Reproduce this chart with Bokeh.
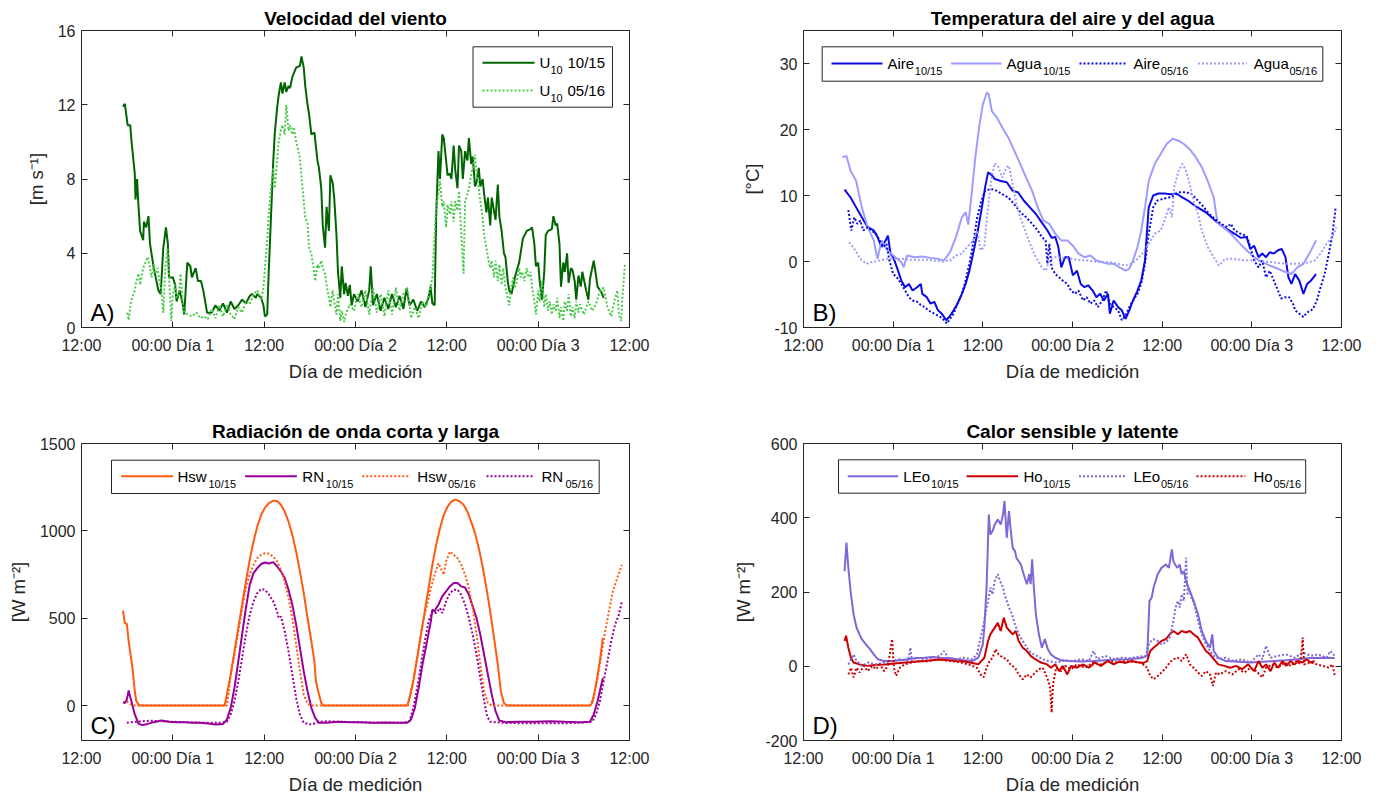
import numpy as np
from bokeh.plotting import figure
from bokeh.layouts import column, row
from bokeh.models import LinearAxis, FixedTicker, Label, BoxAnnotation, Arrow, Range1d
from bokeh.embed import file_html
from bokeh.resources import INLINE

FONT = "Liberation Sans"
AX = "#262626"

# ---------------- x axis (hours since 12:00 of day 0) ----------------
x_ticks = [0, 12, 24, 36, 48, 60, 72]
x_tick_labels = ["12:00", "00:00 Día 1", "12:00", "00:00 Día 2", "12:00", "00:00 Día 3", "12:00"]

# ---------------- A) wind speed [m/s] ----------------
u10_1015 = [(5.45, 11.9), (5.7, 12.05), (6.06, 10.9), (6.4, 10.9), (6.6, 9.9), (7.0, 8.3), (7.1, 6.9), (7.3, 8.0),
            (7.45, 6.8), (7.7, 5.2), (8.1, 4.7), (8.2, 5.7), (8.5, 5.4), (8.8, 6.0), (9.0, 4.5), (9.5, 3.2),
            (10.1, 2.0), (10.4, 1.8), (10.75, 4.3), (11.1, 5.4), (11.35, 4.5), (11.5, 2.7), (12.0, 2.7), (12.3, 2.3),
            (12.5, 1.4), (12.9, 2.0), (13.3, 1.25), (13.5, 0.7), (13.9, 3.5), (14.3, 3.3), (14.5, 2.7), (15.0, 3.2),
            (15.3, 2.5), (15.7, 2.5), (16.0, 2.0), (16.5, 0.8), (17.1, 0.8), (17.6, 1.2), (18.1, 0.9), (18.6, 1.3),
            (19.1, 0.8), (19.6, 1.4), (20.1, 1.0), (20.6, 1.2), (21.1, 1.5), (21.6, 1.3), (22.1, 1.7), (22.4, 1.8),
            (22.9, 1.6), (23.1, 1.8), (23.6, 1.6), (23.9, 1.2), (24.1, 0.6), (24.4, 0.7), (24.6, 3.0), (24.9, 6.0),
            (25.2, 9.0), (25.4, 10.5), (25.7, 11.8), (25.9, 12.5), (26.2, 13.2), (26.4, 12.6), (26.7, 13.2),
            (26.9, 12.7), (27.2, 13.0), (27.4, 12.9), (27.7, 13.5), (28.2, 14.0), (28.7, 14.1), (28.9, 14.6),
            (29.2, 14.0), (29.4, 13.0), (29.7, 12.0), (29.9, 11.5), (30.2, 10.4), (30.6, 10.5), (31.0, 9.0),
            (31.2, 8.6), (31.5, 7.5), (31.7, 5.5), (32.0, 4.3), (32.2, 6.5), (32.5, 5.2), (32.7, 8.2), (33.0, 7.8),
            (33.2, 7.0), (33.5, 5.0), (33.7, 3.0), (34.0, 1.6), (34.2, 3.3), (34.5, 1.8), (34.7, 2.4), (35.0, 1.7),
            (35.25, 2.3), (35.5, 1.2), (35.8, 1.8), (36.3, 1.4), (36.8, 2.0), (37.3, 1.1), (37.8, 2.0), (38.0, 3.3),
            (38.3, 1.2), (38.8, 1.8), (39.3, 0.9), (39.8, 1.6), (40.3, 1.0), (40.8, 1.8), (41.3, 1.1), (41.8, 1.7),
            (42.3, 1.0), (42.7, 2.1), (43.1, 1.2), (43.6, 1.5), (44.1, 0.9), (44.6, 1.4), (45.1, 1.1), (45.6, 1.6),
            (45.85, 2.2), (46.1, 1.3), (46.4, 1.2), (46.6, 6.0), (46.9, 9.5), (47.1, 8.0), (47.4, 10.4),
            (47.6, 10.2), (47.9, 9.0), (48.1, 8.2), (48.4, 8.3), (48.6, 8.0), (48.9, 9.8), (49.1, 8.5), (49.4, 7.5),
            (49.6, 9.8), (49.9, 9.5), (50.1, 8.0), (50.4, 9.5), (50.7, 9.0), (50.9, 10.2), (51.2, 8.8), (51.4, 9.2),
            (51.7, 7.6), (51.9, 7.8), (52.2, 8.6), (52.4, 7.6), (52.7, 8.0), (52.9, 7.2), (53.2, 6.2), (53.4, 7.0),
            (53.7, 5.5), (53.9, 7.0), (54.4, 5.8), (54.7, 7.7), (54.9, 6.0), (55.2, 5.2), (55.5, 4.0), (55.7, 3.8),
            (56.0, 2.5), (56.2, 2.0), (56.5, 1.8), (56.7, 2.2), (57.0, 2.8), (57.5, 3.5), (58.0, 4.8), (58.5, 5.2),
            (59.0, 5.3), (59.2, 5.4), (59.5, 4.5), (59.7, 3.3), (60.0, 3.5), (60.2, 2.5), (60.5, 1.5), (60.8, 3.0),
            (61.0, 5.0), (61.3, 5.2), (61.8, 5.3), (62.0, 6.0), (62.3, 5.5), (62.5, 5.6), (62.8, 4.5), (63.0, 2.2),
            (63.3, 3.5), (63.5, 3.0), (63.8, 4.0), (64.0, 2.4), (64.3, 3.2), (64.5, 3.1), (64.8, 2.5), (65.0, 1.5),
            (65.3, 2.8), (65.6, 2.2), (65.8, 3.0), (66.3, 2.0), (66.6, 1.5), (66.8, 2.6), (67.3, 3.6), (67.6, 2.8),
            (67.8, 2.2), (68.3, 1.9), (68.6, 1.6)]
u10_0516 = [(6.0, 0.8), (6.2, 0.4), (6.5, 1.4), (7.0, 2.0), (7.2, 2.5), (7.5, 2.9), (7.7, 2.3), (8.1, 3.2),
            (8.5, 3.6), (8.7, 3.8), (9.0, 3.2), (9.2, 2.7), (9.5, 3.4), (9.7, 2.9), (10.0, 3.2), (10.25, 2.5),
            (10.5, 2.0), (10.75, 0.8), (11.0, 3.2), (11.3, 4.3), (11.5, 2.7), (11.8, 0.35), (12.0, 1.8), (12.3, 2.3),
            (12.5, 1.6), (12.8, 1.8), (13.0, 2.9), (13.3, 1.4), (13.5, 0.8), (14.0, 0.7), (14.5, 0.6), (15.1, 0.8),
            (15.6, 0.5), (16.1, 0.6), (16.6, 0.45), (17.1, 1.0), (17.6, 0.5), (18.1, 1.2), (18.6, 0.6), (19.1, 1.25),
            (19.6, 0.7), (20.1, 0.45), (20.6, 1.1), (21.1, 0.8), (21.6, 1.4), (22.1, 1.25), (22.6, 1.8), (23.1, 2.0),
            (23.6, 1.5), (23.9, 2.15), (24.1, 3.2), (24.4, 4.7), (24.6, 6.1), (24.9, 7.5), (25.2, 8.6), (25.4, 7.5),
            (25.7, 9.0), (25.9, 10.0), (26.2, 10.6), (26.4, 10.9), (26.7, 10.4), (26.9, 12.0), (27.2, 10.6),
            (27.4, 10.9), (27.7, 10.4), (27.9, 10.8), (28.2, 10.0), (28.4, 9.7), (28.7, 9.1), (28.9, 8.1),
            (29.2, 6.8), (29.4, 5.9), (29.7, 5.6), (29.9, 4.3), (30.2, 3.95), (30.5, 3.2), (30.7, 2.5), (31.0, 3.4),
            (31.2, 3.2), (31.5, 3.6), (31.7, 3.2), (32.0, 2.9), (32.2, 2.3), (32.5, 1.6), (32.7, 1.1), (33.0, 2.0),
            (33.2, 1.4), (33.5, 0.7), (33.7, 1.8), (34.0, 0.35), (34.2, 0.9), (34.5, 0.3), (34.7, 0.7),
            (35.25, 1.25), (35.8, 0.9), (36.3, 1.8), (36.8, 1.1), (37.3, 2.0), (37.8, 0.7), (38.3, 2.15), (38.8, 0.8),
            (39.3, 1.8), (39.8, 0.6), (40.3, 2.0), (40.8, 0.7), (41.3, 2.15), (41.8, 0.9), (42.3, 1.8), (42.8, 2.15),
            (43.3, 0.5), (43.8, 1.1), (44.3, 0.5), (44.8, 1.4), (45.3, 1.1), (45.6, 1.8), (45.85, 2.15), (46.1, 2.7),
            (46.4, 5.0), (46.6, 6.6), (46.9, 7.2), (47.1, 7.9), (47.4, 6.5), (47.6, 6.8), (47.9, 5.4), (48.1, 6.6),
            (48.4, 6.1), (48.6, 6.8), (48.9, 5.7), (49.1, 6.8), (49.4, 6.3), (49.6, 7.35), (49.9, 5.0), (50.2, 2.9),
            (50.4, 6.8), (50.7, 7.2), (50.9, 7.5), (51.2, 8.25), (51.4, 8.6), (51.7, 9.3), (51.9, 8.25), (52.2, 7.5),
            (52.4, 6.8), (52.7, 5.9), (52.9, 5.0), (53.2, 4.3), (53.4, 3.8), (53.7, 3.2), (53.9, 3.6), (54.2, 2.7),
            (54.4, 3.6), (54.7, 2.5), (54.9, 3.4), (55.2, 2.3), (55.4, 3.2), (55.7, 2.15), (55.9, 1.8), (56.2, 1.2),
            (56.4, 2.0), (56.7, 2.7), (56.9, 2.15), (57.2, 2.5), (57.5, 3.2), (57.7, 2.7), (57.9, 3.0), (58.2, 2.5),
            (58.5, 3.2), (58.7, 2.7), (59.0, 3.0), (59.2, 2.15), (59.5, 1.4), (59.7, 0.7), (60.0, 2.0), (60.2, 1.4),
            (60.5, 2.5), (60.8, 1.1), (61.0, 1.8), (61.3, 0.9), (61.5, 1.4), (61.8, 0.7), (62.0, 1.25), (62.3, 0.9),
            (62.5, 1.6), (62.8, 0.5), (63.0, 1.1), (63.3, 0.35), (63.5, 1.4), (63.8, 0.9), (64.0, 1.8), (64.3, 0.6),
            (64.5, 1.1), (64.8, 0.5), (65.0, 1.4), (65.3, 0.8), (65.5, 1.25), (66.0, 0.7), (66.6, 1.4), (67.1, 0.9),
            (67.6, 1.25), (68.1, 1.97), (68.6, 2.15), (69.1, 1.1), (69.6, 0.6), (70.1, 1.6), (70.4, 2.0), (70.6, 0.7),
            (70.9, 0.35), (71.1, 1.8), (71.4, 3.4)]

# ---------------- B) air and water temperature [°C] ----------------
aire_1015 = [(5.5, 10.9), (6.3, 9.7), (7.05, 8.2), (7.8, 6.7), (8.6, 5.2), (9.4, 4.7), (9.9, 3.7), (10.45, 2.2),
             (11.0, 3.2), (11.3, 3.9), (11.65, 1.2), (12.0, 0.65), (12.5, -0.9), (13.1, -2.9), (13.6, -3.9),
             (14.1, -3.4), (14.6, -4.4), (15.2, -3.9), (15.7, -3.4), (15.9, -4.9), (16.5, -5.4), (17.0, -6.4),
             (17.5, -6.1), (18.0, -7.4), (18.5, -7.9), (19.1, -8.9), (19.5, -8.4), (20.1, -7.4), (20.6, -6.4),
             (21.2, -4.9), (21.7, -3.4), (22.2, -1.4), (22.7, 1.2), (23.25, 4.2), (23.8, 7.7), (24.3, 11.2),
             (24.7, 13.5), (25.1, 13.2), (25.6, 12.5), (26.4, 12.2), (27.2, 12.0), (28.0, 10.7), (28.7, 10.5),
             (29.5, 9.2), (30.3, 8.2), (31.1, 7.2), (31.9, 5.9), (32.65, 4.7), (33.2, 3.6), (33.7, 3.7), (34.1, 2.2),
             (34.5, -0.9), (35.0, 0.65), (35.5, 0.65), (36.05, -2.1), (36.6, -1.4), (37.1, -3.4), (37.6, -3.9),
             (38.1, -3.6), (38.7, -4.4), (39.2, -5.4), (39.7, -4.9), (40.2, -5.9), (40.75, -4.9), (41.0, -7.9),
             (41.5, -5.9), (42.1, -6.9), (42.6, -7.4), (43.1, -8.7), (43.6, -7.4), (44.1, -5.9), (44.7, -4.4),
             (45.2, -2.9), (45.7, 0.15), (46.2, 8.2), (46.8, 10.0), (47.5, 10.3), (48.3, 10.3), (49.1, 10.2),
             (49.9, 10.3), (50.7, 9.7), (51.5, 9.2), (52.2, 8.6), (53.0, 8.0), (53.8, 7.5), (54.6, 6.7), (55.4, 5.9),
             (56.2, 5.2), (56.95, 4.7), (57.7, 4.2), (58.5, 3.6), (59.3, 3.7), (59.8, 1.9), (60.3, 2.4), (60.9, 0.65),
             (61.4, 1.2), (61.9, 0.65), (62.4, 1.4), (62.95, 1.2), (63.5, 1.7), (64.0, 1.9), (64.5, 0.65),
             (64.9, -2.4), (65.3, -3.4), (65.8, -1.9), (66.35, -2.9), (66.9, -4.9), (67.4, -3.4), (67.9, -2.9),
             (68.6, -1.9)]
agua_1015 = [(5.2, 15.8), (5.75, 16.0), (6.3, 13.75), (7.05, 12.2), (7.8, 8.2), (8.6, 5.2), (9.4, 3.2), (9.9, 0.4),
             (10.45, 3.2), (11.2, 1.7), (12.3, 0.65), (13.1, -0.1), (13.4, -0.9), (13.85, 0.9), (14.9, 0.65),
             (15.9, 0.75), (17.0, 0.55), (18.0, 0.4), (18.8, 0.15), (19.6, 1.4), (20.4, 3.7), (21.2, 6.7),
             (21.7, 7.45), (22.05, 5.6), (22.5, 10.2), (23.0, 15.8), (23.5, 20.3), (24.0, 23.8), (24.55, 25.6),
             (24.8, 25.3), (25.2, 22.8), (25.9, 21.8), (26.6, 20.3), (27.4, 18.8), (28.2, 16.8), (29.0, 14.8),
             (29.8, 12.7), (30.6, 10.7), (31.35, 8.2), (32.1, 6.2), (32.9, 5.7), (33.7, 4.2), (34.5, 3.2), (35.3, 3.2),
             (36.05, 2.4), (36.8, 1.2), (37.6, 0.65), (38.4, 0.9), (39.2, 0.15), (40.0, -0.1), (40.75, -0.35),
             (41.5, -0.35), (42.3, -0.9), (43.1, -1.4), (43.6, -1.1), (44.1, 0.15), (44.7, 2.2), (45.2, 4.7),
             (45.7, 8.2), (46.2, 12.2), (47.0, 14.8), (47.8, 16.3), (48.6, 17.8), (49.4, 18.6), (50.2, 18.3),
             (50.9, 17.8), (51.7, 17.0), (52.5, 15.8), (53.3, 14.3), (54.1, 12.2), (54.9, 9.7), (55.4, 5.9),
             (56.2, 5.2), (57.2, 4.2), (58.25, 2.9), (59.3, 1.7), (60.3, 0.65), (61.4, -0.1), (62.4, -0.6),
             (63.5, -1.1), (64.5, -1.6), (65.3, -1.9), (66.1, -0.9), (66.9, -0.35), (67.7, 1.2), (68.6, 3.2)]
aire_0516 = [(6.0, 7.8), (6.4, 4.7), (6.8, 6.7), (7.2, 5.7), (7.6, 6.2), (8.0, 4.7), (8.6, 5.2), (9.1, 4.7),
             (9.7, 4.2), (10.2, 3.2), (10.7, 2.2), (11.1, 2.7), (11.5, 0.15), (12.0, -1.9), (12.5, -2.4),
             (13.1, -3.4), (13.6, -4.4), (14.1, -5.4), (14.6, -5.9), (15.2, -6.1), (15.7, -6.6), (16.2, -6.9),
             (16.7, -7.4), (17.5, -7.9), (18.3, -8.4), (18.8, -8.9), (19.2, -9.4), (19.6, -8.7), (20.1, -7.9),
             (20.6, -6.4), (21.2, -4.9), (21.7, -2.9), (22.2, -0.35), (22.7, 2.7), (23.25, 6.7), (23.8, 9.2),
             (24.3, 10.7), (25.1, 11.0), (25.9, 10.7), (26.6, 10.2), (27.4, 9.7), (28.2, 8.7), (29.0, 7.5),
             (29.8, 6.7), (30.6, 5.7), (31.35, 4.7), (31.9, 3.7), (32.4, 3.2), (32.65, -0.35), (32.9, 2.7),
             (33.2, -0.9), (33.7, -1.9), (34.2, -2.4), (34.7, -2.9), (35.3, -3.4), (35.8, -4.4), (36.3, -4.9),
             (36.8, -4.4), (37.4, -5.9), (37.9, -5.4), (38.4, -6.4), (38.9, -5.9), (39.4, -6.9), (40.0, -5.9),
             (40.5, -4.4), (41.0, -6.4), (41.5, -6.9), (42.1, -7.4), (42.6, -8.9), (43.1, -8.2), (43.6, -6.9),
             (44.1, -5.9), (44.7, -4.9), (45.2, -3.4), (45.7, -0.35), (46.2, 4.2), (46.8, 8.2), (47.3, 9.2),
             (48.1, 9.5), (48.9, 9.7), (49.6, 10.0), (50.4, 10.5), (51.2, 10.5), (52.0, 10.2), (52.8, 9.2),
             (53.6, 8.2), (54.3, 7.2), (55.1, 6.4), (55.9, 5.7), (56.7, 5.2), (57.2, 5.7), (57.7, 4.7), (58.5, 4.2),
             (59.3, 3.9), (59.8, 2.2), (60.3, 0.15), (60.9, -0.9), (61.4, 0.15), (61.9, -2.4), (62.4, -1.4),
             (62.95, -2.9), (63.5, -4.4), (63.9, -5.6), (64.5, -5.4), (65.0, -5.4), (65.5, -6.4), (65.8, -7.4),
             (66.35, -7.9), (66.9, -8.4), (67.4, -7.7), (68.2, -7.2), (68.7, -5.9), (69.2, -3.9), (69.75, -1.9),
             (70.3, 1.2), (70.8, 4.2), (71.2, 8.0)]
agua_0516 = [(6.1, 2.9), (6.8, 1.9), (7.6, 0.4), (8.4, -0.35), (9.1, -0.1), (10.2, 0.15), (11.2, 0.4), (12.3, 0.4),
             (13.3, 0.4), (14.4, 0.25), (15.4, 0.25), (16.5, 0.25), (17.5, 0.15), (18.5, 0.0), (19.6, 0.15),
             (20.4, 0.9), (21.2, 1.2), (21.9, 2.2), (22.7, 3.2), (23.25, 4.7), (23.7, 1.7), (24.2, 2.2), (24.55, 6.7),
             (25.1, 12.2), (25.6, 14.9), (26.1, 14.3), (26.6, 12.7), (27.2, 14.3), (27.5, 14.5), (28.0, 11.7),
             (28.5, 8.7), (29.0, 6.7), (29.5, 5.2), (30.3, 2.7), (31.1, 0.65), (31.9, -0.9), (32.4, -1.4),
             (32.9, 0.15), (33.7, 0.65), (34.7, 0.55), (35.8, 0.4), (36.8, 0.25), (37.9, 0.15), (38.9, 0.0),
             (40.0, -0.1), (41.0, -0.1), (42.1, -0.35), (43.1, -0.6), (43.9, -0.35), (44.7, 0.4), (45.45, 1.4),
             (46.2, 2.7), (47.0, 4.2), (47.8, 4.7), (48.3, 6.2), (48.9, 8.2), (49.3, 6.7), (49.6, 11.2), (50.2, 13.75),
             (50.7, 14.8), (51.2, 13.75), (51.7, 11.7), (52.2, 9.2), (52.8, 7.2), (53.3, 4.7), (54.1, 2.2),
             (54.9, 0.65), (55.6, -0.6), (56.4, 0.4), (57.5, 0.4), (58.5, 0.25), (59.6, 0.15), (60.6, 0.15),
             (61.7, 0.0), (62.7, -0.1), (63.7, -0.25), (64.8, -0.35), (65.8, -0.35), (66.9, -0.25), (67.7, -0.1),
             (68.4, 0.15), (69.2, 1.2), (70.0, 2.7), (70.8, 3.7), (71.3, 5.2)]

# ---------------- C) short-wave and net radiation [W/m2] ----------------
hsw_1015 = [(5.45, 543), (5.7, 472), (5.96, 467), (6.2, 368), (6.7, 215), (7.0, 82), (7.2, 25), (7.6, 0), (18.8, 0),
            (19.1, 63), (19.6, 177), (20.1, 310), (20.6, 444), (21.1, 577), (21.6, 710), (22.1, 834), (22.6, 939),
            (23.1, 1025), (23.6, 1091), (24.1, 1133), (24.6, 1158), (25.2, 1173), (25.7, 1171), (26.2, 1149),
            (26.7, 1110), (27.2, 1053), (27.7, 977), (28.2, 882), (28.7, 768), (29.2, 644), (29.7, 501), (30.2, 368),
            (30.6, 253), (30.8, 139), (31.1, 82), (31.5, 15), (31.8, 0), (42.8, 0), (43.1, 44), (43.6, 139),
            (44.1, 272), (44.6, 406), (45.1, 539), (45.6, 672), (46.1, 806), (46.6, 920), (47.1, 1015), (47.6, 1091),
            (48.1, 1139), (48.6, 1168), (49.1, 1179), (49.6, 1171), (50.2, 1149), (50.7, 1110), (51.2, 1053),
            (51.7, 987), (52.2, 901), (52.7, 796), (53.2, 672), (53.7, 539), (54.2, 387), (54.7, 234), (55.1, 82),
            (55.5, 15), (55.9, 0), (66.8, 0), (67.1, 15), (67.6, 120), (68.1, 253), (68.5, 387)]
rn_1015 = [(5.45, 19), (5.7, 15), (5.96, 34), (6.2, 86), (6.5, 34), (7.0, -51), (7.5, -105), (8.0, -112), (8.7, -105),
           (9.5, -95), (10.5, -86), (11.5, -93), (12.5, -95), (13.5, -95), (14.5, -99), (15.6, -99), (16.6, -103),
           (17.6, -109), (18.6, -105), (19.1, -80), (19.6, -13), (20.1, 101), (20.6, 253), (21.1, 406), (21.6, 558),
           (22.1, 691), (22.6, 758), (23.1, 787), (23.6, 810), (24.1, 819), (24.6, 813), (25.2, 821), (25.7, 796),
           (26.2, 768), (26.7, 730), (27.2, 663), (27.7, 577), (28.2, 463), (28.7, 330), (29.2, 196), (29.7, 82),
           (30.2, -13), (30.7, -70), (31.2, -99), (32.2, -99), (33.7, -93), (35.3, -95), (36.8, -95), (38.3, -99),
           (39.8, -97), (41.3, -99), (42.8, -99), (43.3, -80), (43.8, -13), (44.3, 101), (44.8, 234), (45.4, 368),
           (45.9, 482), (46.1, 549), (46.4, 539), (46.6, 558), (46.9, 577), (47.4, 625), (47.9, 653), (48.4, 682),
           (48.9, 701), (49.4, 701), (49.9, 682), (50.4, 676), (50.9, 634), (51.4, 568), (51.9, 501), (52.4, 406),
           (52.9, 291), (53.4, 177), (53.9, 63), (54.4, -32), (54.9, -86), (55.7, -95), (57.5, -93), (59.5, -93),
           (61.5, -90), (63.5, -93), (65.5, -95), (66.8, -93), (67.3, -51), (67.8, 25), (68.5, 158)]
hsw_0516 = [(5.96, 25), (6.5, 6), (7.0, 0), (19.1, 0), (19.3, 63), (19.6, 177), (20.1, 291), (20.6, 425), (21.1, 558),
            (21.6, 672), (22.1, 749), (22.6, 806), (23.1, 844), (23.6, 863), (24.1, 872), (24.6, 870), (25.2, 853),
            (25.7, 825), (26.2, 777), (26.7, 710), (27.2, 615), (27.7, 501), (28.2, 349), (28.7, 196), (29.2, 63),
            (29.7, 10), (30.2, 0), (42.9, 0), (43.3, 82), (43.8, 196), (44.3, 330), (44.8, 463), (45.4, 577),
            (45.9, 672), (46.4, 749), (46.9, 815), (47.4, 768), (47.6, 749), (47.9, 825), (48.4, 882), (48.9, 863),
            (49.4, 844), (49.9, 806), (50.4, 749), (50.9, 672), (51.4, 558), (51.9, 406), (52.4, 234), (52.9, 82),
            (53.4, 15), (53.9, 0), (66.8, 0), (67.3, 44), (67.8, 158), (68.3, 291), (68.8, 425), (69.3, 539),
            (69.8, 653), (70.4, 730), (71.0, 806)]
rn_0516 = [(5.96, -99), (7.0, -93), (8.0, -90), (9.0, -86), (10.5, -90), (12.0, -93), (14.0, -95), (16.1, -99),
           (18.1, -99), (19.1, -93), (19.6, -51), (20.1, 25), (20.6, 139), (21.1, 272), (21.6, 406), (22.1, 520),
           (22.6, 596), (23.1, 644), (23.6, 667), (24.1, 663), (24.6, 638), (25.2, 596), (25.7, 539), (25.9, 501),
           (26.2, 510), (26.7, 425), (27.2, 310), (27.7, 177), (28.2, 44), (28.7, -51), (29.2, -99), (30.2, -109),
           (31.2, -93), (32.2, -90), (34.2, -93), (36.3, -95), (38.3, -99), (40.3, -99), (42.3, -99), (43.1, -90),
           (43.6, -13), (44.1, 101), (44.6, 234), (45.1, 368), (45.6, 482), (46.1, 539), (46.6, 530), (47.1, 558),
           (47.4, 530), (47.9, 596), (48.4, 644), (48.9, 663), (49.4, 663), (49.9, 634), (50.4, 577), (50.9, 501),
           (51.4, 406), (51.9, 291), (52.4, 158), (52.9, 25), (53.3, -61), (53.7, -93), (55.5, -99), (57.5, -101),
           (59.5, -101), (61.5, -101), (63.5, -101), (65.5, -99), (67.1, -93), (67.6, -51), (68.1, 25), (68.6, 139),
           (69.1, 253), (69.6, 368), (70.1, 463), (70.6, 520), (71.0, 596)]

# ---------------- D) sensible and latent heat [W/m2] ----------------
leo_1015 = [(5.5, 256), (5.75, 333), (6.0, 265), (6.35, 194), (6.7, 140), (7.1, 104), (7.5, 86), (7.8, 73), (8.35, 59),
            (8.9, 46), (9.4, 32), (9.95, 19), (10.8, 14), (11.85, 14), (12.9, 16), (14.0, 19), (15.1, 22), (16.2, 23),
            (17.2, 25), (18.3, 23), (19.4, 22), (20.5, 19), (21.5, 16), (22.6, 14), (23.4, 23), (24.0, 59),
            (24.2, 104), (24.5, 212), (24.8, 409), (25.0, 355), (25.3, 364), (25.6, 382), (26.0, 395), (26.4, 382),
            (26.7, 409), (26.9, 445), (27.2, 346), (27.5, 418), (27.7, 373), (28.0, 319), (28.3, 310), (28.5, 292),
            (28.8, 283), (29.1, 274), (29.35, 256), (29.6, 239), (29.9, 221), (30.2, 248), (30.4, 221), (30.6, 288),
            (30.8, 221), (31.1, 140), (31.5, 86), (31.9, 50), (32.3, 73), (32.7, 46), (33.1, 32), (33.7, 23),
            (34.5, 16), (35.5, 14), (37.2, 13), (38.8, 14), (40.4, 16), (42.0, 18), (43.6, 19), (45.2, 22), (46.0, 28),
            (46.3, 176), (46.6, 185), (46.85, 212), (47.4, 248), (47.9, 265), (48.5, 274), (48.9, 265), (49.3, 315),
            (49.5, 283), (50.0, 265), (50.35, 274), (50.6, 248), (50.9, 256), (51.2, 230), (51.7, 203), (52.2, 176),
            (52.8, 140), (53.3, 95), (53.85, 68), (54.4, 50), (54.7, 86), (54.9, 41), (55.5, 23), (56.5, 14),
            (58.2, 12), (59.8, 10), (61.4, 12), (63.0, 14), (64.6, 16), (66.2, 19), (67.9, 22), (69.5, 23), (71.1, 22)]
ho_1015 = [(5.5, 68), (5.7, 82), (6.0, 50), (6.35, 23), (6.7, 10), (7.5, 5), (8.6, 1), (9.7, 4), (10.8, 5), (11.85, 7),
           (12.9, 9), (14.0, 11), (15.1, 13), (16.2, 14), (17.2, 16), (18.3, 18), (19.4, 16), (20.5, 14), (21.5, 13),
           (22.6, 9), (23.4, 5), (24.2, 23), (24.7, 68), (25.0, 86), (25.6, 104), (26.0, 117), (26.4, 95), (26.8, 131),
           (27.2, 104), (27.6, 95), (28.0, 86), (28.4, 95), (28.8, 68), (29.35, 50), (29.9, 41), (30.4, 28), (31.0, 19),
           (31.8, 10), (32.6, 5), (33.1, -4), (33.7, 5), (34.2, -13), (34.7, 1), (35.3, -22), (35.8, 1), (36.6, -4),
           (37.4, 5), (38.2, -4), (39.0, 10), (39.8, 1), (40.7, 14), (41.5, 5), (42.3, 13), (43.1, 9), (43.9, 14),
           (44.7, 11), (45.5, 9), (46.0, 14), (46.4, 41), (46.85, 50), (47.4, 59), (47.9, 68), (48.5, 73), (49.0, 86),
           (49.5, 95), (50.1, 86), (50.6, 95), (51.2, 91), (51.7, 95), (52.2, 86), (52.8, 77), (53.3, 59), (53.85, 41),
           (54.4, 32), (54.9, 19), (55.5, 5), (56.3, 1), (57.1, -4), (57.9, 1), (58.7, -8), (59.5, 5), (60.3, -13),
           (60.9, 14), (61.4, -4), (61.9, 5), (62.5, -13), (63.0, 10), (63.5, -4), (64.1, 14), (64.6, 1), (65.2, 14),
           (65.7, 5), (66.2, 14), (66.8, 10), (67.3, 19), (67.9, 10), (68.4, 14)]
leo_0516 = [(6.0, 5), (6.5, 23), (6.7, 32), (7.1, 14), (7.8, 1), (8.6, 10), (9.7, 5), (10.8, 10), (11.85, 14),
            (12.9, 19), (14.0, 14), (14.3, 50), (14.5, 14), (15.1, 23), (16.2, 19), (17.2, 23), (18.3, 28), (18.8, 41),
            (19.4, 22), (20.5, 19), (21.5, 23), (22.6, 19), (23.2, 32), (23.7, 77), (24.2, 122), (24.5, 158),
            (24.8, 185), (25.0, 212), (25.3, 194), (25.6, 230), (26.0, 248), (26.3, 230), (26.7, 212), (26.9, 194),
            (27.2, 176), (27.5, 158), (27.9, 140), (28.3, 113), (28.8, 86), (29.35, 68), (29.9, 50), (30.4, 37),
            (31.2, 28), (32.0, 19), (32.8, 14), (33.9, 10), (35.0, 16), (36.1, 14), (37.2, 19), (38.2, 14), (38.8, 41),
            (39.3, 19), (40.4, 28), (41.5, 19), (42.5, 23), (43.6, 22), (44.7, 25), (45.8, 28), (46.3, 64),
            (46.85, 73), (47.4, 68), (47.9, 59), (48.5, 64), (49.0, 77), (49.3, 104), (49.5, 122), (49.8, 158),
            (50.1, 176), (50.35, 158), (50.6, 194), (50.9, 176), (51.2, 292), (51.4, 194), (51.7, 203), (52.0, 176),
            (52.2, 176), (52.5, 149), (52.8, 122), (53.3, 86), (53.85, 59), (54.4, 41), (54.9, 28), (55.7, 19),
            (56.5, 23), (57.6, 14), (58.7, 19), (59.8, 10), (60.9, 32), (61.4, 19), (61.9, 55), (62.5, 23), (63.5, 28),
            (64.6, 32), (65.7, 23), (66.8, 37), (67.9, 28), (68.9, 32), (70.0, 23), (70.5, 41), (71.1, 28)]
ho_0516 = [(6.0, -22), (6.35, -4), (6.7, -30), (7.1, -4), (7.5, -17), (8.1, 1), (8.6, -13), (9.2, 1), (9.7, -8),
           (10.2, 5), (10.8, -13), (11.3, 1), (11.85, 73), (12.1, -4), (12.4, -26), (12.9, -4), (13.5, 5), (14.5, 10),
           (15.6, 14), (16.7, 13), (17.8, 19), (18.8, 16), (19.9, 14), (21.0, 10), (22.1, 5), (23.2, -4), (23.7, -22),
           (24.1, -30), (24.5, -4), (24.9, 14), (25.3, 23), (25.7, 46), (26.1, 32), (26.7, 23), (27.2, 19), (27.7, 5),
           (28.3, -4), (28.8, -22), (29.35, -35), (29.9, -22), (30.4, -30), (31.0, -17), (31.5, -8), (32.0, -4),
           (32.6, -30), (33.0, -57), (33.2, -125), (33.4, -48), (33.8, -4), (34.5, -13), (35.0, 1), (35.8, -8),
           (36.6, 5), (37.7, -4), (38.8, 10), (39.8, 5), (40.9, 14), (42.0, 10), (43.1, 14), (44.2, 12), (45.2, 9),
           (46.0, -4), (46.4, -26), (46.85, -35), (47.4, -26), (47.9, -17), (48.5, -4), (49.0, 10), (49.5, 19),
           (50.1, 23), (50.6, 14), (51.2, 32), (51.7, 5), (52.2, -4), (52.8, -17), (53.3, -26), (53.85, -13),
           (54.4, -22), (54.8, -53), (55.2, -17), (55.7, -22), (56.5, -13), (57.4, -22), (58.2, -8), (59.0, -17),
           (59.8, -4), (60.6, -13), (61.4, -30), (61.9, -4), (62.7, 5), (63.5, -4), (64.4, 10), (65.2, 1), (66.0, 14),
           (66.5, 5), (66.8, 77), (67.0, 5), (67.9, 10), (68.7, 5), (69.5, 1), (70.3, -4), (70.8, 5), (71.1, -26)]

# ---------------- colours ----------------
C_U1, C_U2 = "#006400", "#4cc94c"
C_AIRE, C_AGUA = "#0a0ae6", "#9d9dff"
C_HSW, C_RN = "#ff5a0f", "#990099"
C_LEO, C_HO = "#8066d6", "#cd0000"

DOT = "2 2"


def make_fig(title, ylabel, yrange, yticks, border, fw, fh):
    left, right, top, bottom = border
    p = figure(width=left + fw + right, height=top + fh + bottom,
               x_range=Range1d(0, 72), y_range=Range1d(*yrange),
               output_backend="svg", toolbar_location=None, title=title,
               min_border_left=left, min_border_right=right, min_border_top=top, min_border_bottom=bottom,
               background_fill_color="white", border_fill_color="white")
    p.title.text_font = FONT
    p.title.text_font_size = "19px"
    p.title.text_font_style = "bold"
    p.title.text_color = "black"
    p.title.align = "center"
    p.title.standoff = 4
    p.grid.visible = False
    p.outline_line_color = AX
    p.outline_line_width = 1
    p.outline_line_alpha = 1

    for ax in (p.xaxis[0], p.yaxis[0]):
        ax.major_tick_in = 6
        ax.major_tick_out = 0
        ax.minor_tick_in = 0
        ax.minor_tick_out = 0
        ax.axis_line_color = AX
        ax.major_tick_line_color = AX
        ax.major_label_text_color = AX
        ax.major_label_text_font = FONT
        ax.major_label_text_font_size = "16px"
        ax.axis_label_text_font = FONT
        ax.axis_label_text_font_size = "18.5px"
        ax.axis_label_text_font_style = "normal"
        ax.axis_label_text_color = AX
    p.xaxis.ticker = FixedTicker(ticks=x_ticks)
    p.xaxis.major_label_overrides = {t: l for t, l in zip(x_ticks, x_tick_labels)}
    p.xaxis.major_label_standoff = 9
    p.xaxis.axis_label = "Día de medición"
    p.xaxis.axis_label_standoff = 4
    p.yaxis.ticker = FixedTicker(ticks=yticks)
    p.yaxis.major_label_overrides = {t: str(t) for t in yticks}
    p.yaxis.major_label_standoff = 6
    p.yaxis.axis_label = ylabel
    p.yaxis.axis_label_standoff = 8

    top_ax = LinearAxis(ticker=FixedTicker(ticks=x_ticks),
                        major_label_overrides={t: "" for t in x_ticks})
    right_ax = LinearAxis(ticker=FixedTicker(ticks=yticks),
                          major_label_overrides={t: "" for t in yticks})
    for ax in (top_ax, right_ax):
        ax.major_tick_in = 6
        ax.major_tick_out = 0
        ax.minor_tick_in = 0
        ax.minor_tick_out = 0
        ax.axis_line_color = None
        ax.major_tick_line_color = AX
        ax.major_label_text_font_size = "0px"
        ax.major_label_standoff = 0
    p.add_layout(top_ax, "above")
    p.add_layout(right_ax, "right")
    return p


def to_data(p, fw, fh, dx, dy):
    x0, x1 = p.x_range.start, p.x_range.end
    y0, y1 = p.y_range.start, p.y_range.end
    return x0 + dx / fw * (x1 - x0), y1 - dy / fh * (y1 - y0)


def add_series(p, pts, color, dash):
    t, v = zip(*pts)
    p.line(list(t), list(v), line_color=color, line_width=2,
           line_dash=("solid" if dash is None else dash))


def add_legend(p, fw, fh, box, entries):
    """box = (left, right, top, bottom) px from frame top-left"""
    bl, bt = to_data(p, fw, fh, box[0], box[2])
    br, bb = to_data(p, fw, fh, box[1], box[3])
    p.add_layout(BoxAnnotation(left=bl, right=br, top=bt, bottom=bb, fill_color="white", fill_alpha=1,
                               line_color=AX, line_width=1, line_alpha=1))
    for e in entries:
        ry, lx0, lx1, tx, text, sx, sub, color, dash = e[:9]
        xa, ya = to_data(p, fw, fh, lx0, ry)
        xb, _ = to_data(p, fw, fh, lx1, ry)
        p.add_layout(Arrow(end=None, x_start=xa, y_start=ya, x_end=xb, y_end=ya, line_color=color,
                           line_width=2, line_dash=("solid" if dash is None else dash)))
        xt, yt = to_data(p, fw, fh, tx, ry)
        p.add_layout(Label(x=xt, y=yt, text=text, text_font=FONT, text_font_size="15px",
                           text_baseline="middle", text_align="left", text_color="black"))
        xs, ys = to_data(p, fw, fh, sx, ry + 7.5)
        p.add_layout(Label(x=xs, y=ys, text=sub, text_font=FONT, text_font_size="11px",
                           text_baseline="middle", text_align="left", text_color="black"))
        if len(e) > 9:
            xq, _ = to_data(p, fw, fh, e[9], ry)
            p.add_layout(Label(x=xq, y=yt, text=e[10], text_font=FONT, text_font_size="15px",
                               text_baseline="middle", text_align="left", text_color="black"))


def add_panel_label(p, fw, fh, text):
    x, y = to_data(p, fw, fh, 9, fh - 15)
    p.add_layout(Label(x=x, y=y, text=text, text_font=FONT, text_font_size="24px",
                       text_baseline="middle", text_align="left", text_color="black"))


# ---------------- panel A ----------------
FW_L, FW_R, FH = 548, 538, 297
pA = make_fig("Velocidad del viento", "[m s\u207b\u00b9]", (0, 16), [0, 4, 8, 12, 16], (81, 62, 30, 71), FW_L, FH)
add_series(pA, u10_1015, C_U1, None)
add_series(pA, u10_0516, C_U2, DOT)
add_legend(pA, FW_L, FH, (391.5, 531, 16.3, 76.7), [
    (32.3, 401, 453, 458, "U", 469, "10", C_U1, None, 486, "10/15"),
    (60.0, 401, 453, 458, "U", 469, "10", C_U2, DOT, 486, "05/16"),
])
add_panel_label(pA, FW_L, FH, "A)")

# ---------------- panel B ----------------
pB = make_fig("Temperatura del aire y del agua", "[°C]", (-10, 35), [-10, 0, 10, 20, 30], (112, 42, 30, 71), FW_R, FH)
add_series(pB, aire_1015, C_AIRE, None)
add_series(pB, agua_1015, C_AGUA, None)
add_series(pB, aire_0516, C_AIRE, DOT)
add_series(pB, agua_0516, C_AGUA, DOT)
add_legend(pB, FW_R, FH, (18.7, 519.3, 16.3, 50.7), [
    (33, 28, 79, 84, "Aire", 111.3, "10/15", C_AIRE, None),
    (33, 147.6, 198, 203, "Agua", 239.4, "10/15", C_AGUA, None),
    (33, 276, 324, 330, "Aire", 357.3, "05/16", C_AIRE, DOT),
    (33, 394.4, 443.2, 450.2, "Agua", 486, "05/16", C_AGUA, DOT),
])
add_panel_label(pB, FW_R, FH, "B)")

# ---------------- panel C ----------------
pC = make_fig("Radiación de onda corta y larga", "[W m\u207b\u00b2]", (-200, 1500), [0, 500, 1000, 1500],
              (81, 62, 45, 57), FW_L, FH)
add_series(pC, hsw_1015, C_HSW, None)
add_series(pC, rn_1015, C_RN, None)
add_series(pC, hsw_0516, C_HSW, DOT)
add_series(pC, rn_0516, C_RN, DOT)
add_legend(pC, FW_L, FH, (30, 517.7, 16.7, 50), [
    (32.7, 39.6, 91.5, 96, "Hsw", 127, "10/15", C_HSW, None),
    (32.7, 163.5, 215.4, 220.8, "RN", 244.3, "10/15", C_RN, None),
    (32.7, 280.8, 328.8, 335.8, "Hsw", 366.5, "05/16", C_HSW, DOT),
    (32.7, 405, 453, 460, "RN", 484, "05/16", C_RN, DOT),
])
add_panel_label(pC, FW_L, FH, "C)")

# ---------------- panel D ----------------
pD = make_fig("Calor sensible y latente", "[W m\u207b\u00b2]", (-200, 600), [-200, 0, 200, 400, 600],
              (112, 42, 45, 57), FW_R, FH)
add_series(pD, leo_1015, C_LEO, None)
add_series(pD, ho_1015, C_HO, None)
add_series(pD, leo_0516, C_LEO, DOT)
add_series(pD, ho_0516, C_HO, DOT)
add_legend(pD, FW_R, FH, (35, 502.2, 16.3, 49.7), [
    (32.7, 44.3, 94.6, 99.8, "LEo", 127.6, "10/15", C_LEO, None),
    (32.7, 163, 214.5, 220, "Ho", 239.4, "10/15", C_HO, None),
    (32.7, 275.5, 321.8, 330, "LEo", 357.4, "05/16", C_LEO, DOT),
    (32.7, 393, 441.8, 450, "Ho", 470, "05/16", C_HO, DOT),
])
add_panel_label(pD, FW_R, FH, "D)")

layout = column(row(pA, pB), row(pC, pD))
open("out.html", "w").write(file_html(layout, INLINE, title="Mediciones"))
